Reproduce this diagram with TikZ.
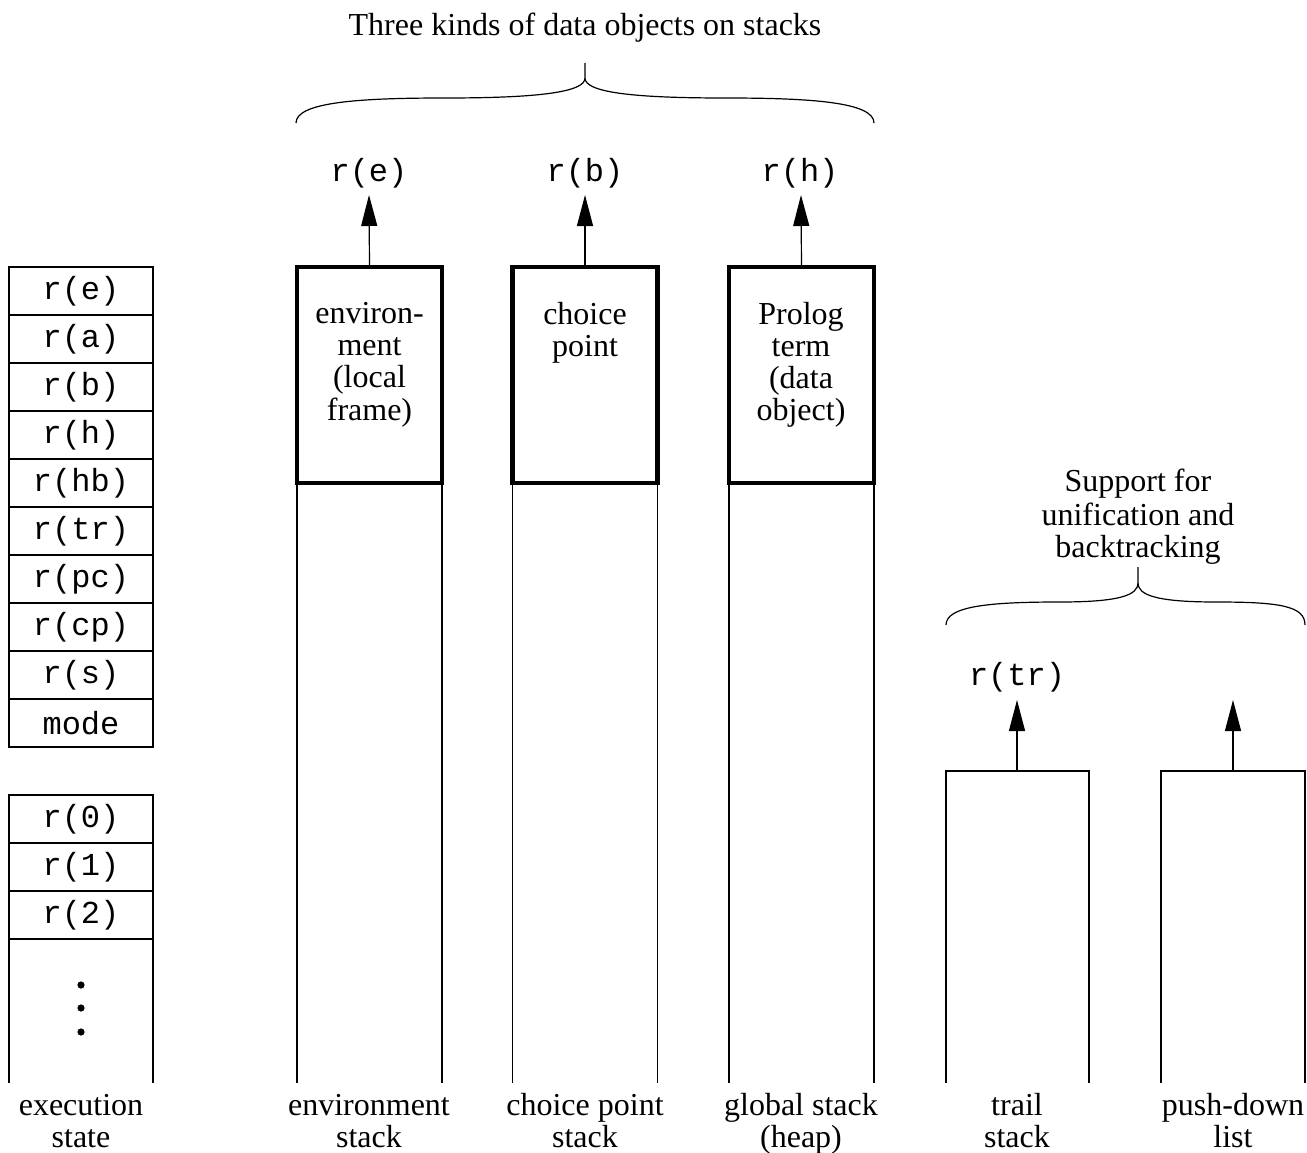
\documentclass[tikz,border=0pt]{standalone}
\usepackage{fontspec}
\setmainfont{Liberation Serif}
\setmonofont{Liberation Mono}
\usetikzlibrary{arrows.meta}
\newcommand\lnx[1]{\strut#1}
\begin{document}
\begin{tikzpicture}[x=1pt,y=-1pt,
  thin/.style={line width=1.2pt},
  reg/.style={draw,line width=1.2pt,minimum width=144pt,minimum height=48pt,inner sep=0pt,outer sep=0pt,
     font=\fontsize{32}{32}\selectfont\ttfamily},
  lbl/.style={inner sep=0pt,align=center,font=\fontsize{32}{32}\selectfont},
  mono/.style={inner sep=0pt,font=\fontsize{32}{32}\selectfont\ttfamily},
  thickbox/.style={draw,line width=4.5pt,minimum width=145pt,minimum height=216pt,inner sep=0pt,outer sep=0pt},
  up/.style={line width=1.2pt,-{Triangle[length=31pt,width=16pt]}},
  brace/.style={line width=1.2pt}
]
\useasboundingbox (0,0) rectangle (1307,1153);

% title
\node[lbl] (title) at (585,29) {\lnx{Three kinds of data objects on stacks}};
\draw[brace] (296,123) .. controls (296,102) and (360,98) .. (445,98)
  .. controls (540,98) and (585,92) .. (585,78) -- (585,63)
  (585,78) .. controls (585,92) and (630,98) .. (725,98)
  .. controls (810,98) and (874,102) .. (874,123);

% register column
\node[reg] (re)  at (81,291) {r(e)};
\node[reg] (ra)  at (81,339) {r(a)};
\node[reg] (rb)  at (81,387) {r(b)};
\node[reg] (rh)  at (81,435) {r(h)};
\node[reg] (rhb) at (81,483) {r(hb)};
\node[reg] (rtr) at (81,531) {r(tr)};
\node[reg] (rpc) at (81,579) {r(pc)};
\node[reg] (rcp) at (81,627) {r(cp)};
\node[reg] (rs)  at (81,675) {r(s)};
\node[reg] (mode) at (81,723) {mode};
\node[reg] (r0)  at (81,819) {r(0)};
\node[reg] (r1)  at (81,867) {r(1)};
\node[reg] (r2)  at (81,915) {r(2)};
\coordinate (bot) at (0,1083);
\draw[thin] (r2.south west) -- (r2.south west |- bot)
            (r2.south east) -- (r2.south east |- bot);
\fill (81,985) circle (3.6pt) (81,1008) circle (3.6pt) (81,1032) circle (3.6pt);
\node[lbl] (execl) at (81,1125) {\lnx{execution}\\\lnx{state}};

% environment stack
\node[thickbox] (envbox) at (369.5,375) {};
\node[lbl] (envt) at (369.5,366) {\lnx{environ-}\\\lnx{ment}\\\lnx{(local}\\\lnx{frame)}};
\draw[thin] (envbox.south west) -- (envbox.south west |- bot)
            (envbox.south east) -- (envbox.south east |- bot);
\node[mono] (envr) at (369,173) {r(e)};
\coordinate (envtip) at (369,195);
\draw[up] (envbox.north) -- (envtip);
\node[lbl] (envl) at (369,1125) {\lnx{environment}\\\lnx{stack}};

% choice point stack
\node[thickbox] (cpbox) at (585,375) {};
\node[lbl] (cpt) at (585,334) {\lnx{choice}\\\lnx{point}};
\draw[thin] (cpbox.south west) -- (cpbox.south west |- bot)
            (cpbox.south east) -- (cpbox.south east |- bot);
\node[mono] (cpr) at (585,173) {r(b)};
\coordinate (cptip) at (585,195);
\draw[up] (cpbox.north) -- (cptip);
\node[lbl] (cpl) at (585,1125) {\lnx{choice point}\\\lnx{stack}};

% global stack
\node[thickbox] (gbox) at (801.5,375) {};
\node[lbl] (gt) at (801,366) {\lnx{Prolog}\\\lnx{term}\\\lnx{(data}\\\lnx{object)}};
\draw[thin] (gbox.south west) -- (gbox.south west |- bot)
            (gbox.south east) -- (gbox.south east |- bot);
\node[mono] (gr) at (800,173) {r(h)};
\coordinate (gtip) at (801,195);
\draw[up] (gbox.north) -- (gtip);
\node[lbl] (gl) at (801,1125) {\lnx{global stack}\\\lnx{(heap)}};

% support brace
\node[lbl] (supp) at (1138,518) {\lnx{Support for}\\\lnx{unification and}\\\lnx{backtracking}};
\draw[brace] (946,625) .. controls (946,606) and (990,602) .. (1060,602)
  .. controls (1120,602) and (1138,595) .. (1138,583) -- (1138,567)
  (1138,583) .. controls (1138,595) and (1156,602) .. (1216,602)
  .. controls (1280,602) and (1305,606) .. (1305,625);

% trail stack
\coordinate (tl) at (946,771);
\coordinate (tr) at (1089,771);
\draw[thin] (tl |- bot) -- (tl) -- (tr) -- (tr |- bot);
\coordinate (tmid) at (1017,771);
\coordinate (ttip) at (1017,700);
\draw[up] (tmid) -- (ttip);
\node[mono] (trr) at (1017,677) {r(tr)};
\node[lbl] (trl) at (1017,1125) {\lnx{trail}\\\lnx{stack}};

% push-down list
\coordinate (pl) at (1161,771);
\coordinate (pr) at (1305,771);
\draw[thin] (pl |- bot) -- (pl) -- (pr) -- (pr |- bot);
\coordinate (pmid) at (1233,771);
\coordinate (ptip) at (1233,700);
\draw[up] (pmid) -- (ptip);
\node[lbl] (pdl) at (1233,1125) {\lnx{push-down}\\\lnx{list}};
\end{tikzpicture}
\end{document}
